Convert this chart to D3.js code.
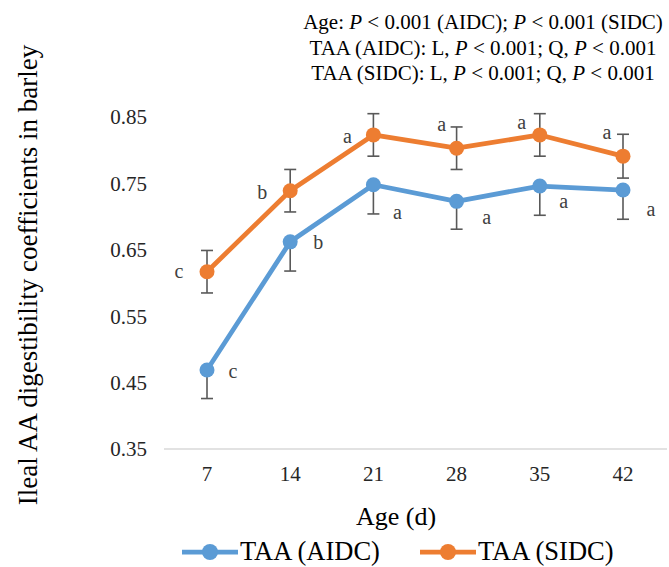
<!DOCTYPE html>
<html><head><meta charset="utf-8">
<script src="https://cdn.jsdelivr.net/npm/d3@7"></script>
<style>body{margin:0;background:#fff}svg{display:block}</style>
</head><body><svg id="c" width="669" height="567" font-family="Liberation Serif"></svg>
<script>
const ages = ["7","14","21","28","35","42"];
const aidc = [0.469, 0.662, 0.748, 0.723, 0.746, 0.740];
const aidcErr = [0.043, 0.044, 0.044, 0.042, 0.044, 0.044];
const sidc = [0.617, 0.739, 0.823, 0.803, 0.823, 0.791];
const sidcErr = [0.032, 0.032, 0.032, 0.032, 0.032, 0.033];
const aidcLetters = ["c","b","a","a","a","a"];
const sidcLetters = ["c","b","a","a","a","a"];
const yTicks = [0.35, 0.45, 0.55, 0.65, 0.75, 0.85];
const seriesNames = ["TAA (AIDC)", "TAA (SIDC)"];
const colors = ["#5B9BD5", "#ED7D31"];
// label offsets (px) relative to point
const aidcLblOff = [[26,2],[28,1],[24,28],[30,17],[24,16],[28,20]];
const sidcLblOff = [[-28,0],[-28,2],[-26,2],[-15,-23],[-18,-12],[-16,-23]];

const svg = d3.select("#c");
const x = d3.scalePoint().domain(ages).range([207, 623]);
const y = d3.scaleLinear().domain([0.35, 0.85]).range([449, 117]);

svg.append("line").attr("x1",164).attr("x2",667).attr("y1",y(0.35)).attr("y2",y(0.35))
  .attr("stroke","#d9d9d9").attr("stroke-width",1.3);

svg.selectAll(".yt").data(yTicks).enter().append("text")
  .attr("x",147).attr("y",d=>y(d)).attr("dy","0.35em").attr("text-anchor","end")
  .attr("font-size",21).attr("fill","#262626").text(d=>d.toFixed(2));
svg.selectAll(".xt").data(ages).enter().append("text")
  .attr("x",d=>x(d)).attr("y",481).attr("text-anchor","middle")
  .attr("font-size",21).attr("fill","#262626").text(d=>d);

svg.append("text").attr("x",396).attr("y",525).attr("text-anchor","middle")
  .attr("font-size",26).attr("fill","#000").text("Age (d)");
svg.append("text").attr("transform","translate(37,275) rotate(-90)")
  .attr("text-anchor","middle").attr("font-size",27).attr("fill","#000")
  .text("Ileal AA digestibility coefficients in barley");

const ann = svg.append("g").attr("font-size",21).attr("fill","#000").attr("text-anchor","middle");
function annLine(yy, parts){
  const t = ann.append("text").attr("x",483).attr("y",yy);
  parts.forEach(p=>t.append("tspan").attr("font-style",p[1]?"italic":null).text(p[0]));
}
annLine(29, [["Age: ",0],["P",1],[" < 0.001 (AIDC); ",0],["P",1],[" < 0.001 (SIDC)",0]]);
annLine(55, [["TAA (AIDC): L, ",0],["P",1],[" < 0.001; Q, ",0],["P",1],[" < 0.001",0]]);
annLine(80, [["TAA (SIDC): L, ",0],["P",1],[" < 0.001; Q, ",0],["P",1],[" < 0.001",0]]);

const line = d3.line().x((d,i)=>x(ages[i])).y(d=>y(d));
const errColor = "#595959";

function drawSeries(vals, errs, color, upper){
  const g = svg.append("g");
  vals.forEach((v,i)=>{
    const cx = x(ages[i]);
    const top = upper ? v+errs[i] : v;
    const bot = v-errs[i];
    g.append("line").attr("x1",cx).attr("x2",cx).attr("y1",y(top)).attr("y2",y(bot)).attr("stroke",errColor).attr("stroke-width",1.6);
    g.append("line").attr("x1",cx-6).attr("x2",cx+6).attr("y1",y(bot)).attr("y2",y(bot)).attr("stroke",errColor).attr("stroke-width",1.6);
    if(upper) g.append("line").attr("x1",cx-6).attr("x2",cx+6).attr("y1",y(top)).attr("y2",y(top)).attr("stroke",errColor).attr("stroke-width",1.6);
  });
  g.append("path").datum(vals).attr("d",line).attr("fill","none").attr("stroke",color)
    .attr("stroke-width",4.75).attr("stroke-linejoin","round");
  g.selectAll("circle").data(vals).enter().append("circle")
    .attr("cx",(d,i)=>x(ages[i])).attr("cy",d=>y(d)).attr("r",7.5).attr("fill",color);
}
drawSeries(aidc, aidcErr, colors[0], false);
drawSeries(sidc, sidcErr, colors[1], true);

function drawLetters(vals, letters, offs){
  svg.append("g").selectAll("text").data(vals).enter().append("text")
    .attr("x",(d,i)=>x(ages[i])+offs[i][0]).attr("y",(d,i)=>y(d)+offs[i][1])
    .attr("dy","0.3em").attr("text-anchor","middle").attr("font-size",20).attr("fill","#404040")
    .text((d,i)=>letters[i]);
}
drawLetters(aidc, aidcLetters, aidcLblOff);
drawLetters(sidc, sidcLetters, sidcLblOff);

const legX = [182, 420];
seriesNames.forEach((n,i)=>{
  const g = svg.append("g");
  const lx = legX[i];
  g.append("line").attr("x1",lx).attr("x2",lx+56).attr("y1",552).attr("y2",552).attr("stroke",colors[i]).attr("stroke-width",4.75);
  g.append("circle").attr("cx",lx+28).attr("cy",552).attr("r",8).attr("fill",colors[i]);
  g.append("text").attr("x",lx+58).attr("y",560).attr("font-size",26.5).attr("fill","#000").text(n);
});
</script></body></html>
